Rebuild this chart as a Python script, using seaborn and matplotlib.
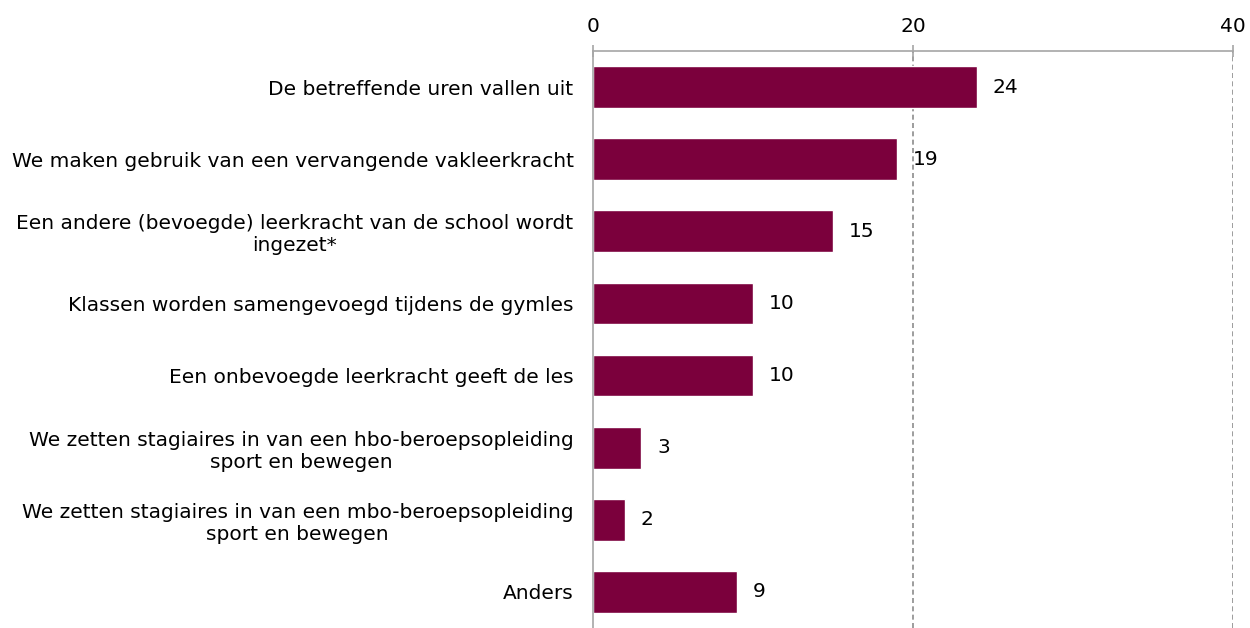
import numpy as np
import pandas as pd
import matplotlib
matplotlib.use("Agg")
import matplotlib.pyplot as plt
import seaborn as sns

categories = [
    "De betreffende uren vallen uit",
    "We maken gebruik van een vervangende vakleerkracht",
    "Een andere (bevoegde) leerkracht van de school wordt\ningezet*",
    "Klassen worden samengevoegd tijdens de gymles",
    "Een onbevoegde leerkracht geeft de les",
    "We zetten stagiaires in van een hbo-beroepsopleiding\nsport en bewegen",
    "We zetten stagiaires in van een mbo-beroepsopleiding\nsport en bewegen",
    "Anders",
]
values = [24, 19, 15, 10, 10, 3, 2, 9]
x_ticks = [0, 20, 40]

data = pd.DataFrame({"categorie": categories, "waarde": values})

sns.set_style("white")
plt.rcParams["font.family"] = ["DejaVu Sans"]
plt.rcParams["text.color"] = "black"
plt.rcParams["xtick.labelcolor"] = "black"
plt.rcParams["ytick.labelcolor"] = "black"

fig = plt.figure(figsize=(12.5, 6.28), dpi=100)
ax = fig.add_axes([0.4744, 0.0, 0.512, 0.9188])

sns.barplot(data=data, x="waarde", y="categorie", color="#7B003C",
            saturation=1, width=0.58, ax=ax)

grey = "#A6A6A6"
ax.set_xlim(0, 40)
ax.set_ylim(len(categories) - 0.5, -0.5)
ax.xaxis.tick_top()
ax.set_xticks(x_ticks)
ax.set_xticklabels([str(t) for t in x_ticks], fontsize=14.5)
ax.tick_params(axis="x", direction="inout", length=8, color=grey, width=1.2, pad=7)
for t in x_ticks[1:]:
    ax.axvline(t, color="#8C8C8C", linestyle=(0, (3, 2)), linewidth=1.2, zorder=0)

# category boundary ticks on the left spine
ax.set_yticks(np.arange(len(categories)))
ax.set_yticklabels(categories, fontsize=14.5)
ax.set_yticks(np.arange(len(categories) + 1) - 0.5, minor=True)
ax.tick_params(axis="y", which="major", length=0, pad=14)
ax.tick_params(axis="y", which="minor", length=6, color=grey, width=1.2)
for lbl in ax.get_yticklabels():
    lbl.set_horizontalalignment("right")
    lbl.set_multialignment("center")

ax.set_xlabel("")
ax.set_ylabel("")
for s in ["right", "bottom"]:
    ax.spines[s].set_visible(False)
for s in ["top", "left"]:
    ax.spines[s].set_color(grey)
    ax.spines[s].set_linewidth(1.2)

for i, v in enumerate(values):
    ax.text(v + 1.0, i, str(v), va="center", ha="left", fontsize=14.5, color="black")

fig.savefig("out.png", dpi=100)
